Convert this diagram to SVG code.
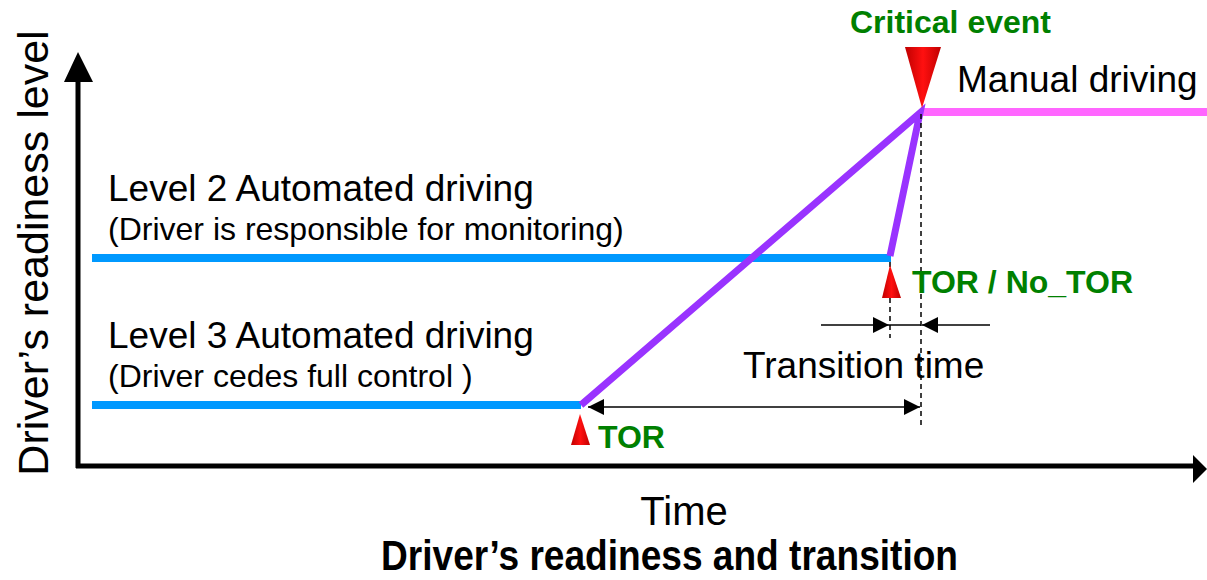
<svg xmlns="http://www.w3.org/2000/svg" width="1207" height="580" viewBox="0 0 1207 580">
<defs>
<style>
.t{font-family:"Liberation Sans",Arial,sans-serif;fill:#000}
.g{font-family:"Liberation Sans",Arial,sans-serif;fill:#008000;font-weight:bold;font-size:32px}
.dash{stroke:#000;stroke-width:1.5;stroke-dasharray:5,4;fill:none}
.dim{stroke:#000;stroke-width:1.5;fill:none}
</style>
<linearGradient id="rg" x1="0" y1="0" x2="1" y2="0">
<stop offset="0" stop-color="#c00000"/><stop offset="0.5" stop-color="#ff1010"/><stop offset="1" stop-color="#c00000"/>
</linearGradient>
<marker id="ah2" viewBox="0 0 16 16" refX="16" refY="8" markerWidth="16" markerHeight="16" markerUnits="userSpaceOnUse" orient="auto-start-reverse">
<path d="M0,0 L16,8 L0,16 z" fill="#000"/>
</marker>
</defs>
<rect width="1207" height="580" fill="#fff"/>

<g id="axes">
<line x1="78" y1="468" x2="78" y2="80" stroke="#000" stroke-width="5"/>
<path d="M64,82 L78,52 L93,82 z" fill="#000"/>
<line x1="76" y1="466" x2="1195" y2="466" stroke="#000" stroke-width="5"/>
<path d="M1193,455 L1207,469 L1193,483 z" fill="#000"/>
<text class="t" font-size="43" transform="translate(48,253) rotate(-90)" text-anchor="middle">Driver’s readiness level</text>
<text class="t" font-size="40" x="684" y="525" text-anchor="middle">Time</text>
<text class="t" font-size="43" font-weight="bold" x="381" y="570" textLength="577" lengthAdjust="spacingAndGlyphs">Driver’s readiness and transition</text>
</g>

<g id="connectors">
<line x1="92" y1="258" x2="891" y2="258" stroke="#0099ff" stroke-width="8"/>
<line x1="92" y1="405" x2="581" y2="405" stroke="#0099ff" stroke-width="8"/>
<line x1="921" y1="112" x2="1207" y2="112" stroke="#ff66ff" stroke-width="8"/>
<polyline points="581,405 920,113 890,256" fill="none" stroke="#9933ff" stroke-width="7" stroke-linejoin="miter"/>
<line class="dash" x1="921" y1="114" x2="921" y2="428"/>
<line class="dash" x1="890" y1="262" x2="890" y2="338"/>
<line class="dim" x1="821" y1="325" x2="889" y2="325" marker-end="url(#ah2)"/>
<line class="dim" x1="889" y1="325" x2="921" y2="325"/>
<line class="dim" x1="990" y1="325" x2="922" y2="325" marker-end="url(#ah2)"/>
<line class="dim" x1="588" y1="407" x2="920" y2="407" marker-start="url(#ah2)" marker-end="url(#ah2)"/>
</g>

<g id="critical-event">
<path d="M905,47 L941,47 L922,108 z" fill="url(#rg)"/>
<text class="g" x="850" y="33">Critical event</text>
</g>

<g id="manual-driving">
<text class="t" font-size="37" x="957" y="92">Manual driving</text>
</g>

<g id="level2">
<text class="t" font-size="37" x="108" y="201">Level 2 Automated driving</text>
<text class="t" font-size="32" x="108" y="240">(Driver is responsible for monitoring)</text>
</g>

<g id="level3">
<text class="t" font-size="37" x="108" y="348">Level 3 Automated driving</text>
<text class="t" font-size="32" x="108" y="387">(Driver cedes full control )</text>
</g>

<g id="tor-no-tor">
<path d="M890,265 L882,298 L901,298 z" fill="url(#rg)"/>
<text class="g" x="912" y="293">TOR / No_TOR</text>
</g>

<g id="transition-time">
<text class="t" font-size="37" x="743" y="378">Transition time</text>
</g>

<g id="tor">
<path d="M580,414 L571,445 L590,445 z" fill="url(#rg)"/>
<text class="g" x="598" y="448">TOR</text>
</g>
</svg>
